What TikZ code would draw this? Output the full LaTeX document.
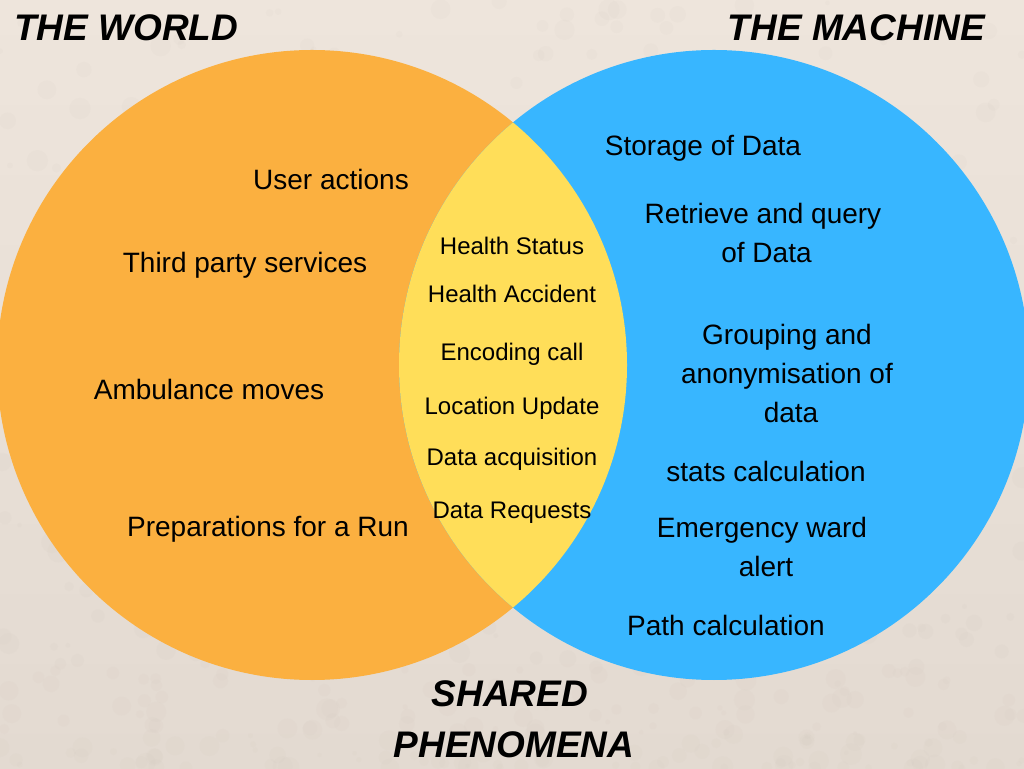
\documentclass[tikz,border=0pt]{standalone}
\usepackage{fontspec}
\setmainfont{Liberation Sans}
\definecolor{bgtop}{HTML}{EEE5DC}
\definecolor{bgbot}{HTML}{E3DAD1}
\definecolor{stain}{HTML}{CBC1B7}
\definecolor{worldorange}{HTML}{FBB040}
\definecolor{machineblue}{HTML}{38B6FF}
\definecolor{sharedyellow}{HTML}{FFDE59}
\begin{document}
\begin{tikzpicture}[x=1pt,y=1pt,
  title/.style={font=\fontsize{37}{51}\selectfont\bfseries\itshape, inner sep=0pt, align=center},
  item/.style={font=\fontsize{28}{39}\selectfont, inner sep=0pt, align=center},
  shareditem/.style={font=\fontsize{24}{30}\selectfont, inner sep=0pt, anchor=base}]
\useasboundingbox (0,0) rectangle (1024,768);
% plaster-like backdrop
\shade[top color=bgtop, bottom color=bgbot] (0,0) rectangle (1024,768);
\pgfmathsetseed{7}
\foreach \i in {1,...,600}{
  \pgfmathsetmacro{\px}{1024*rnd}
  \pgfmathsetmacro{\py}{768*rnd^1.8}
  \pgfmathsetmacro{\pr}{2+9*rnd}
  \fill[stain, opacity=0.08] (\px,\py) circle (\pr);
}
% the two sets and their overlap
\fill[worldorange] (312,403) circle (315);
\fill[machineblue] (714,403) circle (315);
\begin{scope}
  \clip (312,403) circle (315);
  \fill[sharedyellow] (714,403) circle (315);
\end{scope}
% headings
\node[title, anchor=base west] (world) at (14,727.7) {THE WORLD};
\node[title, anchor=base east] (machine) at (985,727.7) {THE MACHINE};
\node[title] (shared) at (510,48.5) {SHARED\\\hspace*{8pt}PHENOMENA};
% world phenomena
\node[item, anchor=base] (w1) at (331,578) {User actions};
\node[item, anchor=base] (w2) at (245,495) {Third party services};
\node[item, anchor=base] (w3) at (209,368) {Ambulance moves};
\node[item, anchor=base] (w4) at (268,231) {Preparations for a Run};
% machine phenomena
\node[item, anchor=base] (m1) at (703,612) {Storage of Data};
\node[item] (m2) at (763,535.5) {Retrieve and query\\\hspace*{7pt}of Data};
\node[item] (m3) at (787,395) {Grouping and\\anonymisation of\\\hspace*{8pt}data};
\node[item, anchor=base] (m4) at (766,286) {stats calculation};
\node[item] (m5) at (762,221.5) {Emergency ward\\\hspace*{8pt}alert};
\node[item, anchor=base] (m6) at (726,132) {Path calculation};
% shared phenomena
\node[shareditem] (s1) at (512,513.4) {Health Status};
\node[shareditem] (s2) at (512,465.4) {Health Accident};
\node[shareditem] (s3) at (512,407.4) {Encoding call};
\node[shareditem] (s4) at (512,353.4) {Location Update};
\node[shareditem] (s5) at (512,302.4) {Data acquisition};
\node[shareditem] (s6) at (512,249.4) {Data Requests};
\end{tikzpicture}
\end{document}
